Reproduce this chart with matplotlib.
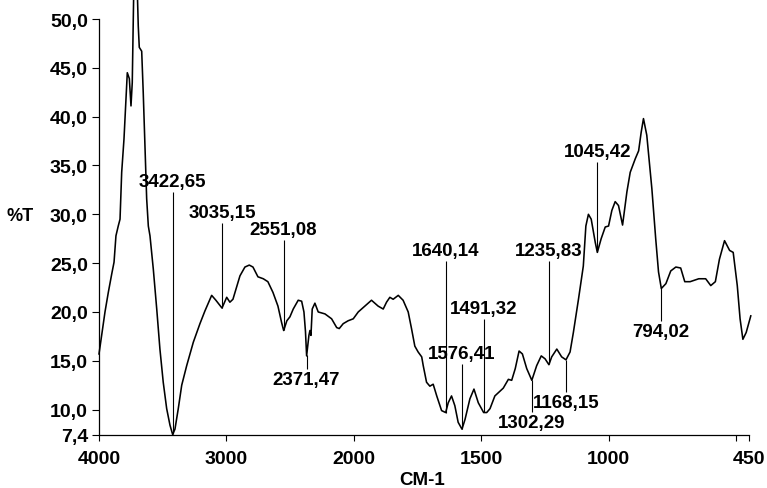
import numpy as np
import matplotlib
matplotlib.use("Agg")
import matplotlib.pyplot as plt

# ------------------------------------------------------------
# DATA: IR spectrum (wavenumber cm-1, %T)
# ------------------------------------------------------------
wavenumber = [
    4000, 3979, 3953, 3927, 3900, 3882, 3867, 3849, 3835, 3822,
    3804, 3788, 3778, 3762, 3749, 3739, 3731, 3722, 3706, 3692,
    3684, 3665, 3653, 3639, 3626, 3613, 3600, 3574, 3547, 3522,
    3496, 3469, 3443, 3422, 3404, 3378, 3351, 3312, 3260, 3208,
    3169, 3116, 3083, 3035, 2998, 2973, 2949, 2894, 2855, 2821,
    2792, 2753, 2711, 2675, 2635, 2596, 2567, 2551, 2526, 2502,
    2476, 2437, 2410, 2392, 2380, 2371, 2353, 2345, 2337, 2327,
    2306, 2280, 2227, 2175, 2135, 2115, 2084, 2045, 2005,
    1983, 1957, 1931, 1905, 1885, 1872, 1859, 1846, 1826, 1807,
    1787, 1774, 1761, 1748, 1734, 1728, 1715, 1702, 1689, 1675,
    1656, 1640, 1630, 1617, 1604, 1591, 1576, 1564, 1545, 1529,
    1512, 1491, 1479, 1466, 1447, 1414, 1394, 1381, 1367, 1352,
    1339, 1322, 1302, 1283, 1265, 1250, 1235, 1224, 1204, 1185,
    1168, 1152, 1139, 1119, 1100, 1090, 1080, 1069, 1053, 1045,
    1030, 1014, 1001, 988, 975, 962, 946, 929, 916, 896,
    883, 873, 864, 851, 831, 816, 805, 794, 776, 757,
    737, 718, 702, 681, 647, 620, 600, 582, 566, 546,
    526, 512, 496, 485, 474, 461, 443,
]
transmittance = [
    15.7, 17.6, 20.0, 22.0, 23.9, 25.1, 27.8, 28.8, 29.5, 34.3,
    37.7, 41.8, 44.5, 43.9, 41.1, 43.5, 50.5, 56.0, 56.0, 49.3,
    47.1, 46.7, 42.5, 37.0, 31.6, 28.8, 27.8, 24.4, 20.3, 16.2,
    12.8, 10.1, 8.4, 7.45, 8.0, 10.1, 12.5, 14.5, 16.9, 18.8,
    20.1, 21.7, 21.2, 20.4, 21.5, 21.0, 21.3, 23.7, 24.6, 24.8,
    24.6, 23.6, 23.4, 23.1, 22.0, 20.6, 18.9, 18.1, 19.1, 19.5,
    20.3, 21.2, 21.1, 20.0, 18.0, 15.5, 17.6, 18.1, 17.6, 20.3,
    20.9, 20.0, 19.8, 19.3, 18.4, 18.3, 18.8, 19.1, 19.3,
    20.0, 20.6, 21.2, 20.6, 20.3, 21.0, 21.5, 21.3, 21.7, 21.2,
    20.0, 18.3, 16.5, 15.9, 15.4, 14.5, 12.8, 12.4, 12.6, 11.4,
    9.9, 9.7, 10.7, 11.4, 10.4, 8.7, 8.0, 9.0, 11.1, 12.1,
    10.7, 9.7, 9.7, 10.1, 11.4, 12.2, 13.1, 13.0, 14.2, 16.0,
    15.7, 14.2, 13.0, 14.5, 15.5, 15.2, 14.6, 15.4, 16.2, 15.4,
    15.1, 15.9, 17.9, 21.3, 24.7, 28.8, 30.0, 29.5, 27.1, 26.1,
    27.5, 28.7, 28.8, 30.4, 31.3, 30.9, 28.9, 32.3, 34.3, 35.7,
    36.5, 38.4, 39.8, 38.1, 32.6, 27.5, 24.1, 22.4, 22.9, 24.2,
    24.6, 24.5, 23.1, 23.1, 23.4, 23.4, 22.7, 23.1, 25.4, 27.3,
    26.3, 26.1, 22.7, 19.3, 17.2, 17.9, 19.6,
]

# peak labels
peaks_up = [3422.65, 3035.15, 2551.08, 1640.14, 1491.32, 1576.41, 1235.83, 1045.42]
peaks_down = [2371.47, 1302.29, 1168.15, 794.02]

# label heights (%T) where the marker line ends
up_tops = [32.3, 29.1, 27.4, 25.2, 19.3, 14.7, 25.2, 35.4]
down_ends = [14.2, 9.8, 11.8, 19.1]

y_ticks = [7.4, 10, 15, 20, 25, 30, 35, 40, 45, 50]
x_ticks = [4000, 3000, 2000, 1500, 1000, 500, 450]
x_tick_labels = ["4000", "3000", "2000", "1500", "1000", "", "450"]

FONT = "Liberation Sans"


def fmt(v):
    return f"{v:.2f}".replace(".", ",")


# x axis: 4000-2000 is drawn at half scale
def fwd(x):
    x = np.asarray(x, dtype=float)
    return np.where(x > 2000, 2000 + (x - 2000) / 2.0, x)


def inv(u):
    u = np.asarray(u, dtype=float)
    return np.where(u > 2000, 2000 + (u - 2000) * 2.0, u)


fig = plt.figure(figsize=(7.67, 4.89), dpi=100)
ax = fig.add_axes([99 / 767, 53 / 489, 650 / 767, 416 / 489])

ax.set_xscale("function", functions=(fwd, inv))
ax.set_xlim(4000, 450)
ax.set_ylim(7.4, 50)

ax.plot(wavenumber, transmittance, color="black", lw=1.15, clip_on=False)

wn_sorted = np.array(wavenumber[::-1], dtype=float)
t_sorted = np.array(transmittance[::-1], dtype=float)

font_lbl = dict(family=FONT, weight="bold", size=13.5)

for w, top in zip(peaks_up, up_tops):
    yc = np.interp(w, wn_sorted, t_sorted)
    ax.vlines(w, yc, top, color="black", lw=0.8)
    ax.text(w, top + 0.2, fmt(w), ha="center", va="bottom", **font_lbl)

for w, end in zip(peaks_down, down_ends):
    yc = np.interp(w, wn_sorted, t_sorted)
    ax.vlines(w, end, yc, color="black", lw=0.8)
    ax.text(w, end - 0.2, fmt(w), ha="center", va="top", **font_lbl)

ax.set_yticks(y_ticks)
ax.set_yticklabels([f"{v:.1f}".replace(".", ",") for v in y_ticks])
ax.set_xticks(x_ticks)
ax.set_xticklabels(x_tick_labels)
ax.minorticks_off()

for lab in ax.get_xticklabels() + ax.get_yticklabels():
    lab.set_fontfamily(FONT)
    lab.set_fontweight("bold")
    lab.set_fontsize(14)

ax.tick_params(axis="y", direction="out", length=5, width=0.8, pad=3)
ax.tick_params(axis="x", direction="out", length=4.5, width=0.8, pad=6.5)

ax.spines["top"].set_visible(False)
ax.spines["right"].set_visible(False)
ax.spines["left"].set_linewidth(0.9)
ax.spines["bottom"].set_linewidth(0.9)

ax.set_ylabel("%T", rotation=0, fontfamily=FONT, fontweight="bold",
              fontsize=13, ha="center", va="center")
ax.yaxis.set_label_coords(-0.1215, 0.528)
ax.set_xlabel("CM-1", fontfamily=FONT, fontweight="bold", fontsize=13.5,
              va="center")
ax.xaxis.set_label_coords(0.4965, -0.108)

fig.savefig("out.png", dpi=100)
